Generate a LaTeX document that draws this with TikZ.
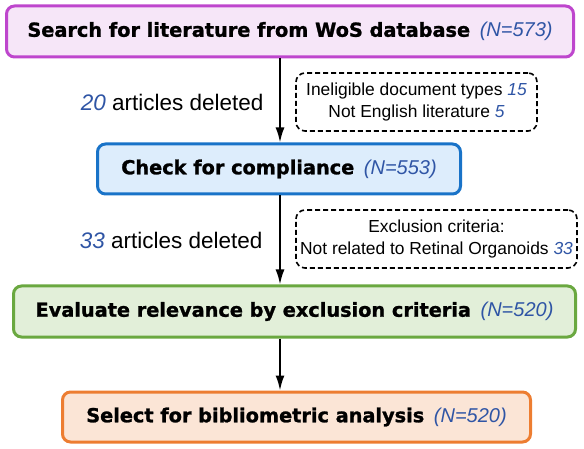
\documentclass[tikz,border=0pt]{standalone}
\usepackage{fontspec}
\setmainfont{Liberation Sans}
\newfontfamily\heavyfont{DejaVu Sans}[BoldFeatures={FakeBold=1.2}]
\usepackage{tikz}
\usetikzlibrary{positioning}
\usetikzlibrary{arrows.meta}

\definecolor{searchline}{RGB}{190,70,205}
\definecolor{searchfill}{RGB}{246,230,248}
\definecolor{checkline}{RGB}{25,115,200}
\definecolor{checkfill}{RGB}{221,237,252}
\definecolor{evalline}{RGB}{106,168,64}
\definecolor{evalfill}{RGB}{226,239,217}
\definecolor{selectline}{RGB}{237,125,49}
\definecolor{selectfill}{RGB}{251,229,214}
\definecolor{cntblue}{RGB}{47,85,165}

\newcommand{\cnt}[1]{{\color{cntblue}\rmfamily\mdseries\itshape #1}}

\begin{document}
\begin{tikzpicture}[x=1pt,y=-1pt,
		stage/.style={draw,line width=3pt,rounded corners=8pt,inner sep=0pt,font=\heavyfont\bfseries\fontsize{19.3}{23}\selectfont},
		note/.style={draw,dash pattern=on 5pt off 3pt,line width=1.6pt,rounded corners=9pt,inner sep=0pt,align=center,font=\fontsize{17.4}{22.5}\selectfont},
		flow/.style={line width=2pt,-{Latex[length=15pt,width=9pt]}}]
				\useasboundingbox (0,0) rectangle (584,449);
				\coordinate (col) at (280,0);
				\node[stage,draw=searchline,fill=searchfill,minimum width=567pt,minimum height=51pt](search) at (290,31.5) {Search for literature from WoS database\hspace{0.5em}{\fontsize{20}{23}\selectfont\cnt{(N=573)}}};
				\node[stage,draw=checkline,fill=checkfill,minimum width=363pt,minimum height=50pt](check) at (279,169) {Check for compliance\hspace{0.5em}{\fontsize{20}{23}\selectfont\cnt{(N=553)}}};
				\node[stage,draw=evalline,fill=evalfill,minimum width=562pt,minimum height=51pt](eval) at (294.5,311.5) {Evaluate relevance by exclusion criteria\hspace{0.5em}{\fontsize{20}{23}\selectfont\cnt{(N=520)}}};
				\node[stage,draw=selectline,fill=selectfill,minimum width=468pt,minimum height=50pt](select) at (296.5,417) {Select for bibliometric analysis\hspace{0.5em}{\fontsize{20}{23}\selectfont\cnt{(N=520)}}};

				\node[note,minimum width=241pt,minimum height=58pt](why1) at (416.5,102) {Ineligible document types \cnt{15}\\Not English literature \cnt{5}};
				\node[note,minimum width=281pt,minimum height=58pt](why2) at (436.5,239) {Exclusion criteria:\\Not related to Retinal Organoids \cnt{33}};
				\node[anchor=east,font=\fontsize{22.5}{26}\selectfont](del1) at (267,102) {\cnt{20} articles deleted};
				\node[anchor=east,font=\fontsize{22.5}{26}\selectfont](del2) at (266,240) {\cnt{33} articles deleted};

				\draw[flow] (search.south -| col) -- (check.north -| col);
				\draw[flow] (check.south -| col) -- (eval.north -| col);
				\draw[flow] (eval.south -| col) -- (select.north -| col);
			\end{tikzpicture}
\end{document}
